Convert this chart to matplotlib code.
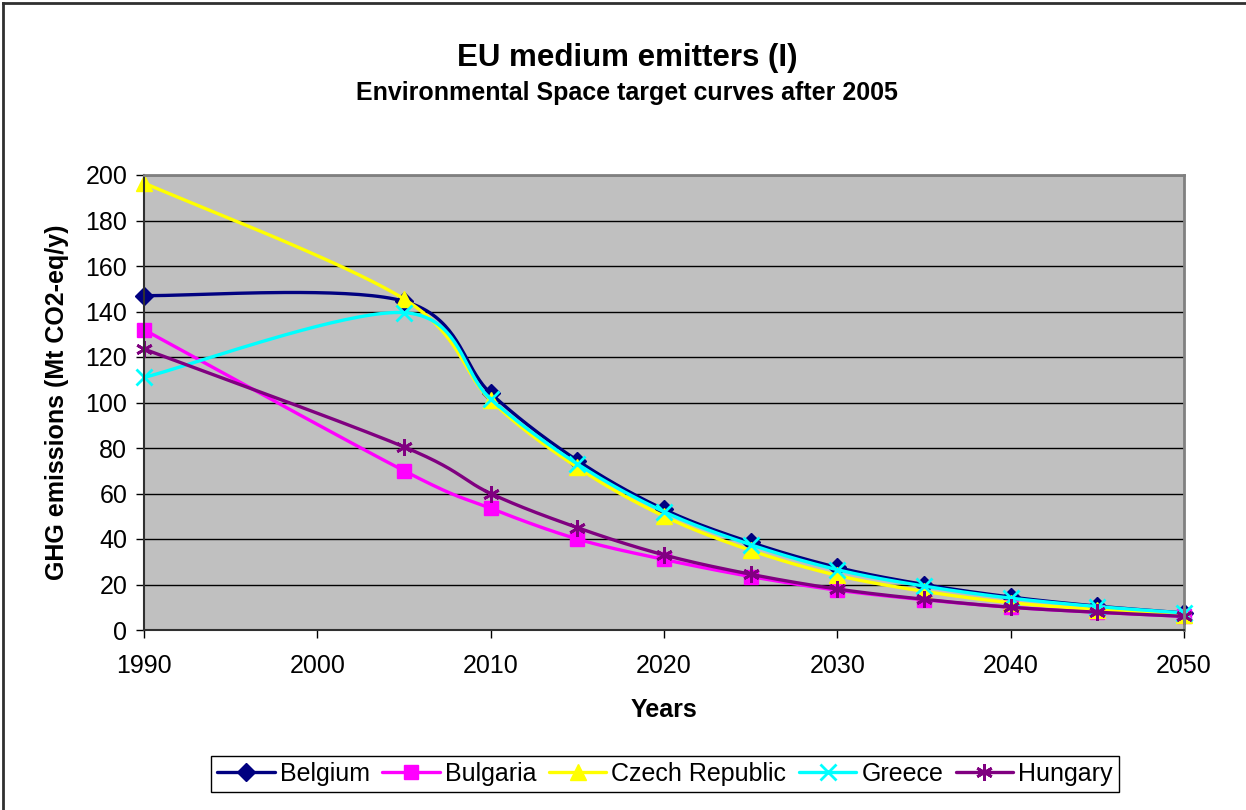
# -*- coding: utf-8 -*-
"""
EU medium emitters (I): Environmental Space target curves after 2005.
"""

import numpy as np
import matplotlib
matplotlib.use('Agg')
import matplotlib.pyplot as plt
from matplotlib.lines import Line2D

plt.rcParams['font.family'] = ['Liberation Sans', 'DejaVu Sans']

# Emission paths (Mt CO2-eq/y)
years = [1990, 2005, 2010, 2015, 2020, 2025, 2030, 2035, 2040, 2045, 2050]
belgium = [147, 144.5, 104, 74.5, 53, 38.5, 27.5, 20, 14.5, 10.5, 7.5]
bulgaria = [132, 70, 53.5, 40, 31, 23.5, 17.5, 13.3, 10, 7.8, 6]
czech = [196.5, 145.5, 101, 71.5, 50, 35, 24, 17, 12, 9, 6.5]
greece = [111, 139.5, 101.5, 73, 52, 37.5, 26.5, 19.3, 14, 10.3, 7.5]
hungary = [123.5, 80.5, 60, 45, 33, 24.5, 18, 13.5, 10, 7.8, 6]

countries = ['Belgium', 'Bulgaria', 'Czech Republic', 'Greece', 'Hungary']
series = [belgium, bulgaria, czech, greece, hungary]
colors = ['#000080', '#FF00FF', '#FFFF00', '#00FFFF', '#800080']
markers = ['D', 's', '^', 'x', (6, 2, 0)]
msizes = [9, 10, 11, 11, 12]

yticks = list(range(0, 201, 20))
xticks = list(range(1990, 2051, 10))


def smooth_curve(x, y, n=40):
    # Bezier segments with Catmull-Rom style control points
    x = np.asarray(x, float)
    y = np.asarray(y, float)
    pts = np.column_stack([x, y])
    out = []
    for i in range(len(pts) - 1):
        p0 = pts[i - 1] if i > 0 else pts[i]
        p1 = pts[i]
        p2 = pts[i + 1]
        p3 = pts[i + 2] if i + 2 < len(pts) else pts[i + 1]
        c1 = p1 + (p2 - p0) / 6.0
        c2 = p2 - (p3 - p1) / 6.0
        t = np.linspace(0, 1, n, endpoint=False)[:, None]
        seg = ((1 - t) ** 3) * p1 + 3 * ((1 - t) ** 2) * t * c1 \
            + 3 * (1 - t) * t ** 2 * c2 + t ** 3 * p2
        out.append(seg)
    out.append(pts[-1:])
    curve = np.vstack(out)
    marks = [i * n for i in range(len(pts))]
    return curve[:, 0], curve[:, 1], marks


W, H = 1246, 810
fig = plt.figure(figsize=(W / 100, H / 100), dpi=100)

# Plot area in pixel coordinates
left, right, top, bottom = 144, 1184, 175, 630
ax = fig.add_axes([left / W, 1 - bottom / H, (right - left) / W, (bottom - top) / H])
ax.set_facecolor('#C0C0C0')

for vals, name, col, mk, ms in zip(series, countries, colors, markers, msizes):
    sx, sy, marks = smooth_curve(years, vals)
    ax.plot(sx, sy, color=col, linewidth=2.4, marker=mk, markevery=marks,
            markersize=ms, markerfacecolor=col, markeredgecolor=col,
            markeredgewidth=2 if mk in ('x', (6, 2, 0)) else 1,
            label=name, clip_on=False, solid_capstyle='round')

ax.set_xlim(1990, 2050)
ax.set_ylim(0, 200)
ax.set_yticks(yticks)
ax.set_xticks(xticks)
ax.grid(axis='y', color='black', linewidth=1)
ax.set_axisbelow(True)
ax.tick_params(axis='both', direction='out', length=6, width=1,
               labelsize=18, color='black')
ax.tick_params(axis='y', pad=6)
ax.tick_params(axis='x', pad=11)

for side in ['top', 'right']:
    ax.spines[side].set_color('#808080')
    ax.spines[side].set_linewidth(2)
for side in ['left', 'bottom']:
    ax.spines[side].set_color('#303030')
    ax.spines[side].set_linewidth(1.5)

# Titles and axis labels
fig.text(627 / W, 1 - 58 / H, 'EU medium emitters (I)', ha='center', va='center',
         fontsize=22.5, fontweight='bold')
fig.text(627 / W, 1 - 93 / H, 'Environmental Space target curves after 2005',
         ha='center', va='center', fontsize=18, fontweight='bold')
fig.text(57 / W, 1 - 402 / H, 'GHG emissions (Mt CO2-eq/y)', rotation=90,
         ha='center', va='center', fontsize=18, fontweight='bold')
fig.text(664 / W, 1 - 710 / H, 'Years', ha='center', va='center',
         fontsize=18, fontweight='bold')

leg = fig.legend(loc='center', bbox_to_anchor=(665 / W, 1 - 774 / H), ncol=5,
                 fontsize=18, frameon=True, fancybox=False, framealpha=1,
                 edgecolor='black', handlelength=2.3, handletextpad=0.2,
                 columnspacing=0.5, borderpad=0.25, borderaxespad=0)
leg.get_frame().set_linewidth(1)

# Chart area border (left and top edges)
fig.add_artist(Line2D([3 / W, 3 / W], [0, 1 - 3 / H], transform=fig.transFigure,
                      color='#303030', linewidth=2))
fig.add_artist(Line2D([3 / W, 1], [1 - 3 / H, 1 - 3 / H], transform=fig.transFigure,
                      color='#303030', linewidth=2))

fig.savefig('out.png', dpi=100)
